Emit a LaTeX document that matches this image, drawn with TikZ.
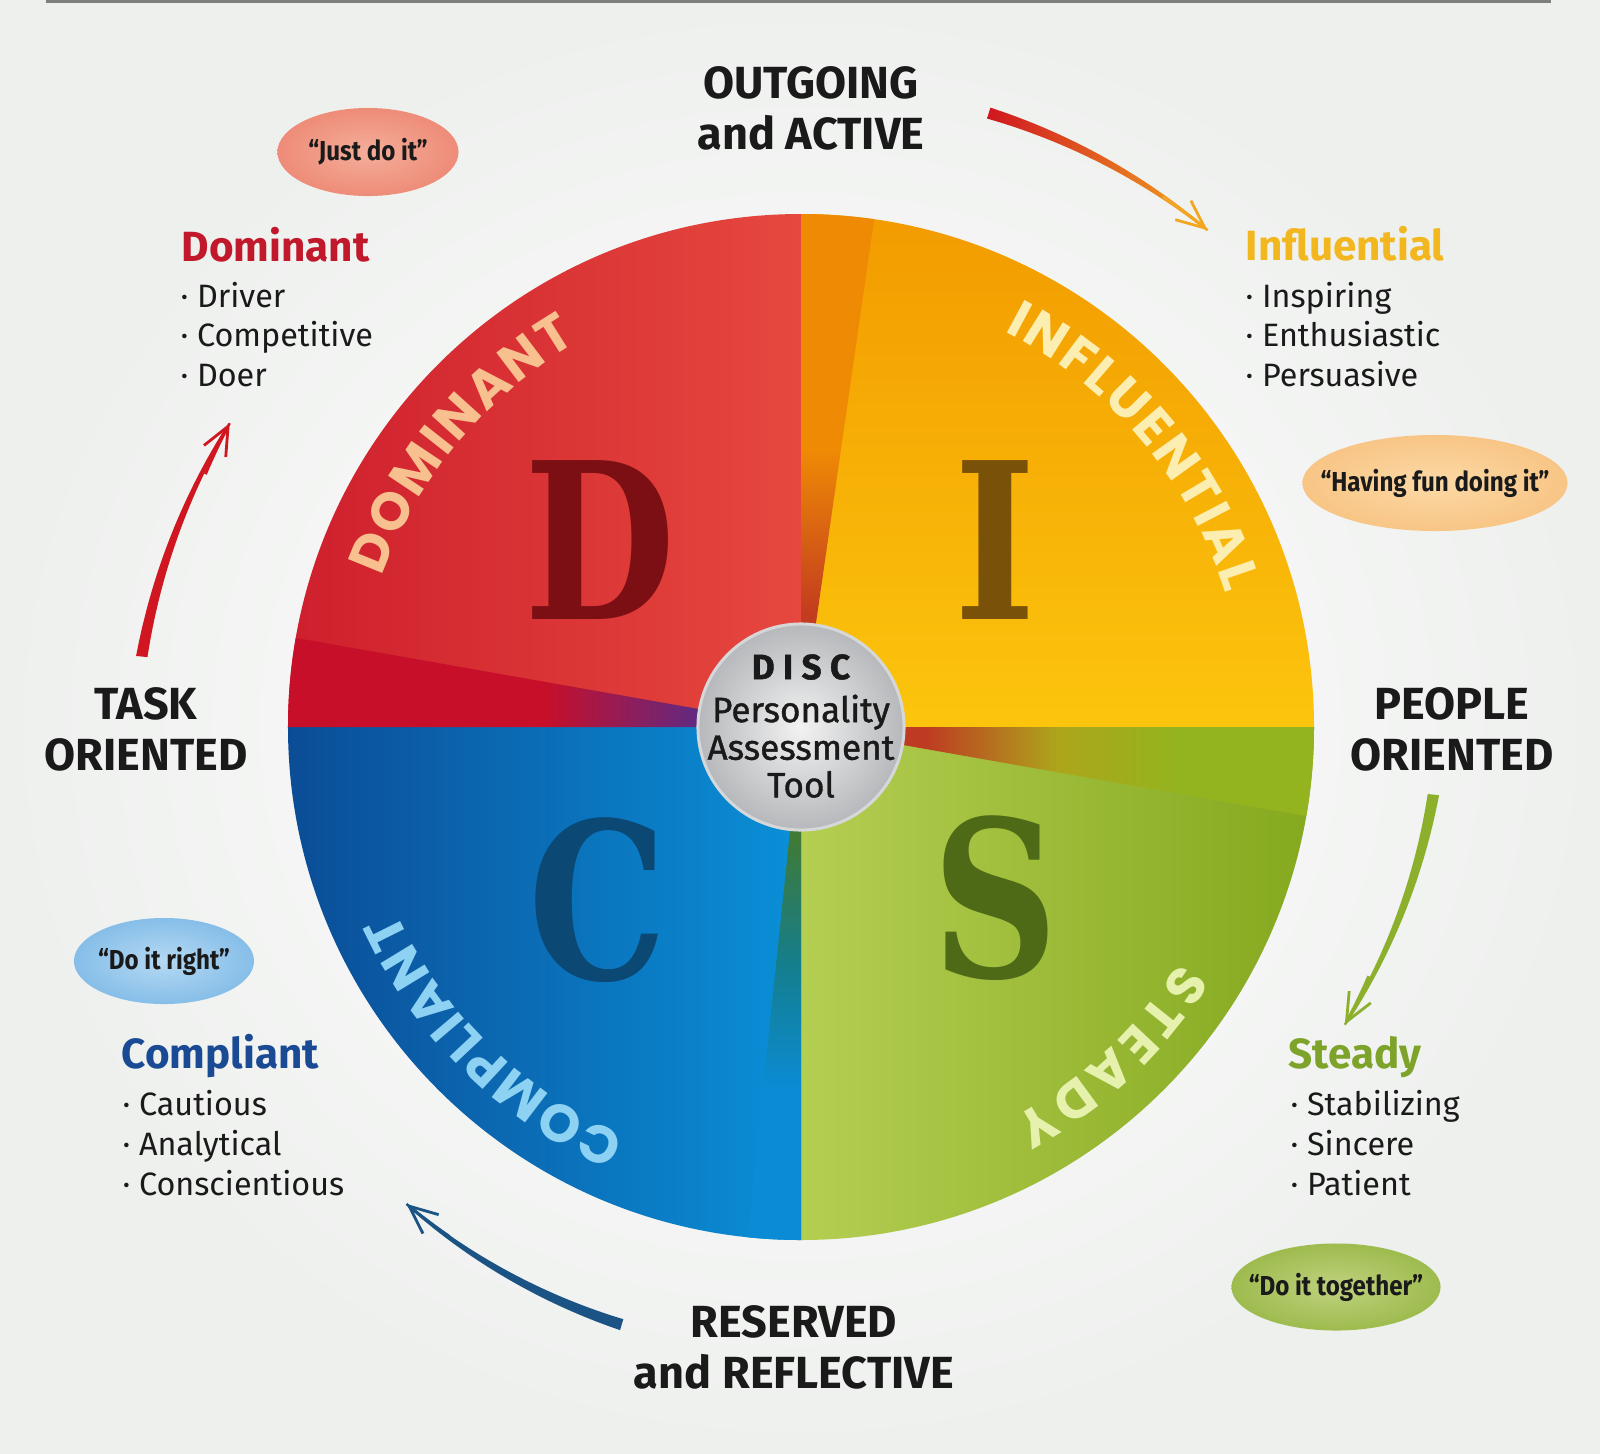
\documentclass[tikz,border=0pt]{standalone}
\usepackage{fontspec}
\setmainfont{Fira Sans}
\newfontfamily\letterfont[FakeStretch=0.8]{DejaVu Serif}
\newfontfamily\arcfamily{Poppins}
\newfontfamily\hubfont[FakeBold=1.2]{Fira Sans}
\newfontfamily\quotefont[FakeStretch=0.88]{Fira Sans}
\newcommand\arcfont{\arcfamily\bfseries\fontsize{15}{15}\selectfont}
\usetikzlibrary{shapes.geometric,decorations.text,arrows.meta}

% page and text
\definecolor{bggray}{HTML}{EEF0EE}
\definecolor{topline}{HTML}{7E807E}
\definecolor{textblack}{HTML}{1A1A1A}
% quadrants
\definecolor{domleft}{HTML}{CE1F2D}
\definecolor{domright}{HTML}{E6483E}
\definecolor{domwedge}{HTML}{C70F2A}
\definecolor{dompurple}{HTML}{5A2B88}
\definecolor{inftop}{HTML}{F29B00}
\definecolor{infbottom}{HTML}{FCC50D}
\definecolor{infwedge}{HTML}{EF8A05}
\definecolor{infbrown}{HTML}{C23C1F}
\definecolor{stleft}{HTML}{B4CE52}
\definecolor{stright}{HTML}{84A81E}
\definecolor{stwedge}{HTML}{93B41E}
\definecolor{stolive}{HTML}{ADA51B}
\definecolor{stbrown}{HTML}{BE3A22}
\definecolor{coleft}{HTML}{0B4C96}
\definecolor{coright}{HTML}{0A90D8}
\definecolor{cowedge}{HTML}{0A8BD3}
\definecolor{coteal}{HTML}{157E8C}
\definecolor{cogreen}{HTML}{3F7A37}
% letters and labels
\definecolor{dletter}{HTML}{7B0F14}
\definecolor{iletter}{HTML}{7A5108}
\definecolor{sletter}{HTML}{4E6A16}
\definecolor{cletter}{HTML}{0B4874}
\definecolor{dompeach}{HTML}{F8C08E}
\definecolor{infpale}{HTML}{FCEEB0}
\definecolor{stpale}{HTML}{E6F1AE}
\definecolor{copale}{HTML}{8ED2F3}
\definecolor{domtitle}{HTML}{C1182C}
\definecolor{inftitle}{HTML}{F2B61E}
\definecolor{sttitle}{HTML}{7EA32A}
\definecolor{cotitle}{HTML}{1B4A94}
% hub
\definecolor{hubin}{HTML}{F2F2F2}
\definecolor{hubout}{HTML}{B6B8BB}
\definecolor{hubring}{HTML}{D6D7D9}
% quotes
\definecolor{justin}{HTML}{F4AE9A}
\definecolor{justout}{HTML}{EE8C78}
\definecolor{funin}{HTML}{FCD9A6}
\definecolor{funout}{HTML}{F8C585}
\definecolor{rightin}{HTML}{B5D9F3}
\definecolor{rightout}{HTML}{86BEE8}
\definecolor{togin}{HTML}{BFD27F}
\definecolor{togout}{HTML}{9EBB4E}
% arrows
\definecolor{arrowred}{HTML}{D01620}
\definecolor{arrowgold}{HTML}{F2A720}
\definecolor{arrowgreen}{HTML}{8DB02C}
\definecolor{arrowblue}{HTML}{1A5384}

\pgfdeclarehorizontalshading{domwedgeshade}{100bp}{color(0bp)=(domwedge); color(50bp)=(domwedge); color(66bp)=(dompurple); color(100bp)=(dompurple)}
\pgfdeclareverticalshading{infwedgeshade}{100bp}{color(0bp)=(infbrown); color(36bp)=(infbrown); color(52bp)=(infwedge); color(100bp)=(infwedge)}
\pgfdeclarehorizontalshading{stwedgeshade}{100bp}{color(0bp)=(stbrown); color(37bp)=(stbrown); color(50bp)=(stolive); color(62bp)=(stwedge); color(100bp)=(stwedge)}
\pgfdeclareverticalshading{cowedgeshade}{100bp}{color(0bp)=(cowedge); color(40bp)=(cowedge); color(52bp)=(coteal); color(64bp)=(cogreen); color(100bp)=(cogreen)}

\begin{document}
\begin{tikzpicture}[x=0.01cm, y=0.01cm,
    headline/.style={font=\bfseries\fontsize{12.8}{12.8}\selectfont, text=textblack, inner sep=0pt, anchor=base},
    typetitle/.style={font=\bfseries\fontsize{12}{12}\selectfont, inner sep=0pt, anchor=base west},
    typeitem/.style={font=\fontsize{9.2}{9.2}\selectfont, text=textblack, inner sep=0pt, anchor=base west},
    quote/.style={ellipse, inner sep=0pt, label={[text=textblack, font=\quotefont\bfseries\fontsize{7.8}{7.8}\selectfont]center:#1}},
    bigletter/.style={font=\letterfont\bfseries\fontsize{62}{62}\selectfont, inner sep=0pt},
    arclabel/.style 2 args={decorate, decoration={text along path, text align={fit to path}, text color=#1, text={|\arcfont|#2}}},
    arrowout/.style={left color=arrowred, right color=arrowgold},
    arrowpeople/.style={fill=arrowgreen},
    arrowreserved/.style={fill=arrowblue},
    arrowtask/.style={fill=arrowred}]
  \useasboundingbox (-801,-726) rectangle (799,727);
  % backdrop
  \shade[inner color=white, outer color=bggray] (-801,-726) rectangle (799,727);
  \draw[line width=0.03cm, topline] (-755,725.5) -- (750,725.5);

  % four quadrants around the origin
  \def\R{513}
  \shade[left color=domleft, right color=domright] (0,0) -- (90:\R) arc[start angle=90, end angle=180, radius=\R] -- cycle;
  \shade[top color=inftop, bottom color=infbottom] (0,0) -- (0:\R) arc[start angle=0, end angle=90, radius=\R] -- cycle;
  \shade[left color=stleft, right color=stright] (0,0) -- (270:\R) arc[start angle=270, end angle=360, radius=\R] -- cycle;
  \shade[left color=coleft, right color=coright] (0,0) -- (180:\R) arc[start angle=180, end angle=270, radius=\R] -- cycle;
  % pinwheel wedges
  \shade[shading=domwedgeshade] (0,0) -- (170:\R) arc[start angle=170, end angle=180, radius=\R] -- cycle;
  \shade[shading=infwedgeshade] (0,0) -- (81.8:\R) arc[start angle=81.8, end angle=90, radius=\R] -- cycle;
  \shade[shading=stwedgeshade] (0,0) -- (350:\R) arc[start angle=350, end angle=360, radius=\R] -- cycle;
  \shade[shading=cowedgeshade] (0,0) -- (264:\R) arc[start angle=264, end angle=270, radius=\R] -- cycle;

  % names along the rim
  \path[arclabel={dompeach}{DOMINANT}] (160.3:445) arc[start angle=160.3, end angle=120.2, radius=445];
  \path[arclabel={infpale}{INFLUENTIAL}] (62.8:445) arc[start angle=62.8, end angle=17.5, radius=445];
  \path[arclabel={stpale}{STEADY}] (-31.9:445) arc[start angle=-31.9, end angle=-61.5, radius=445];
  \path[arclabel={copale}{COMPLIANT}] (-113.2:445) arc[start angle=-113.2, end angle=-155.5, radius=445];

  % big letters
  \node[bigletter, text=dletter] (bigD) at (-201,187) {D};
  \node[bigletter, text=iletter] (bigI) at (194,187) {I};
  \node[bigletter, text=sletter] (bigS) at (194,-171) {S};
  \node[bigletter, text=cletter] (bigC) at (-203,-173) {C};

  % hub
  \node[circle, minimum size=2.06cm, inner sep=0pt, inner color=hubin, outer color=hubout, draw=hubring, line width=0.03cm] (hub) at (0,0) {};
  \node[align=center, inner sep=0pt, text=textblack, font=\hubfont\fontsize{10}{10.7}\selectfont] (hubtext) at (0,1)
    {{\bfseries D I S C}\\[1.5pt] Personality\\ Assessment\\ Tool};

  % axis words
  \node[headline] (outgoing) at (10,629) {OUTGOING};
  \node[headline] (active) at (10,578) {and ACTIVE};
  \node[headline] (task) at (-655,8) {TASK};
  \node[headline] (taskor) at (-655,-43) {ORIENTED};
  \node[headline] (people) at (651,8) {PEOPLE};
  \node[headline] (peopleor) at (651,-43) {ORIENTED};
  \node[headline] (reserved) at (-7,-610) {RESERVED};
  \node[headline] (reflective) at (-7,-661) {and REFLECTIVE};

  % type descriptions
  \node[typetitle, text=domtitle] (dom) at (-620,466) {Dominant};
  \foreach \w [count=\i] in {Driver,Competitive,Doer}
    \node[typeitem] (dom\i) at (-621,{420-39.5*(\i-1)}) {· \w};
  \node[typetitle, text=inftitle] (inf) at (444,467) {Influential};
  \foreach \w [count=\i] in {Inspiring,Enthusiastic,Persuasive}
    \node[typeitem] (inf\i) at (444,{420-39.5*(\i-1)}) {· \w};
  \node[typetitle, text=cotitle] (comp) at (-680,-341) {Compliant};
  \foreach \w [count=\i] in {Cautious,Analytical,Conscientious}
    \node[typeitem] (comp\i) at (-679,{-388-40*(\i-1)}) {· \w};
  \node[typetitle, text=sttitle] (st) at (487,-341) {Steady};
  \foreach \w [count=\i] in {Stabilizing,Sincere,Patient}
    \node[typeitem] (st\i) at (489,{-388-40*(\i-1)}) {· \w};

  % quotes
  \node[quote={“Just do it”}, minimum width=1.81cm, minimum height=0.88cm, inner color=justin, outer color=justout] (justdo) at (-433,575) {};
  \node[quote={“Having fun doing it”}, minimum width=2.65cm, minimum height=0.96cm, inner color=funin, outer color=funout] (havefun) at (634,244) {};
  \node[quote={“Do it right”}, minimum width=1.80cm, minimum height=0.86cm, inner color=rightin, outer color=rightout] (doright) at (-637,-234) {};
  \node[quote={“Do it together”}, minimum width=2.09cm, minimum height=0.87cm, inner color=togin, outer color=togout] (together) at (535,-560) {};

  % tapered arrows running clockwise round the wheel
  \foreach \sa/\ea/\sr/\er/\arrsty/\tipcol in {73/50.7/642/642/arrowout/arrowgold,
      -6.1/-28.7/636/620/arrowpeople/arrowgreen,
      -106.7/-129.6/624/619/arrowreserved/arrowblue,
      173.9/152/663/647/arrowtask/arrowred}{
    \path[\arrsty] plot[domain=0:1, samples=40, variable=\t] ({\sa+(\ea-(\sa))*\t}:{\sr+(\er-(\sr))*\t+5.7-4.5*\t})
      -- plot[domain=1:0, samples=40, variable=\t] ({\sa+(\ea-(\sa))*\t}:{\sr+(\er-(\sr))*\t-5.7+4.5*\t}) -- cycle;
    \draw[\tipcol, line width=0.8pt, -{Straight Barb[length=8pt, width=7pt]}] ({\ea+5}:\er) arc[start angle={\ea+5}, end angle=\ea, radius=\er];
  }
\end{tikzpicture}
\end{document}
